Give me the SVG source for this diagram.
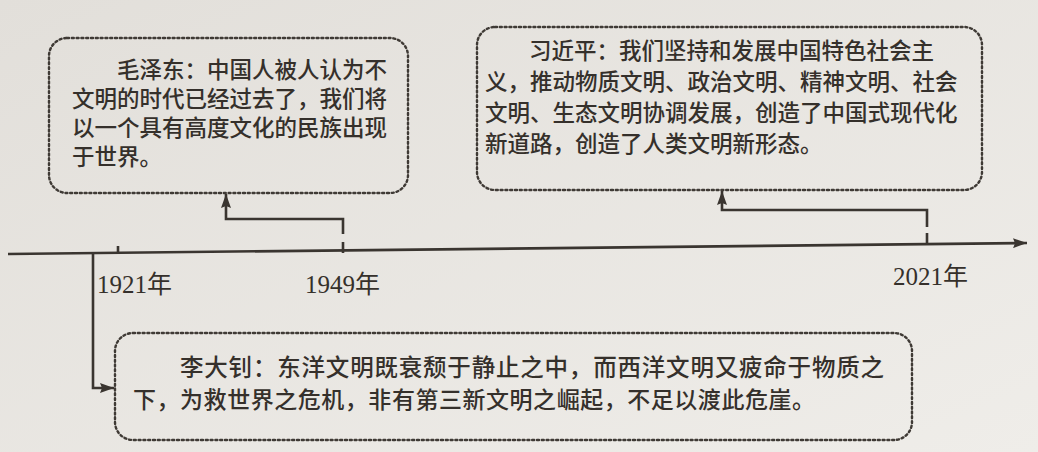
<svg xmlns="http://www.w3.org/2000/svg" width="1038" height="452" viewBox="0 0 1038 452">
<style>
.box{fill:none;stroke:#3f3a35;stroke-width:2.4;stroke-dasharray:2 2.8;stroke-linecap:round}
.t{font-family:"Noto Sans CJK SC","Noto Sans",sans-serif;fill:#35302b;font-size:22.5px;font-weight:500}
.y{font-family:"Liberation Serif","Noto Sans CJK SC",serif;fill:#35302b;font-size:25px}
.ln{fill:none;stroke:#3a3530;stroke-width:2.6}
</style>
<defs>
<marker id="ah" viewBox="0 0 14 10" refX="14" refY="5" markerWidth="14" markerHeight="10" markerUnits="userSpaceOnUse" orient="auto">
<path d="M0,0 L14,5 L0,10 L2,5 Z" fill="#3a3530"/>
</marker>
<linearGradient id="g" x1="0" y1="0" x2="1" y2="1">
<stop offset="0" stop-color="#e2dfda"/>
<stop offset="1" stop-color="#efede9"/>
</linearGradient>
</defs>
<rect width="1038" height="452" fill="url(#g)"/>

<g id="connectors">
<path class="ln" d="M8,254 L1027,243" marker-end="url(#ah)"/>
<path class="ln" d="M118,246 V253"/>
<path class="ln" d="M93,254 V388 H114" marker-end="url(#ah)"/>
<path class="ln" d="M343,253 V242 M343,234 V219 H226 V194" marker-end="url(#ah)"/>
<path class="ln" d="M927,243 V233 M927,227 V210 H722 V191" marker-end="url(#ah)"/>
</g>

<g id="year1921"><text class="y" x="97" y="293">1921年</text></g>
<g id="year1949"><text class="y" x="305" y="293">1949年</text></g>
<g id="year2021"><text class="y" x="893" y="285">2021年</text></g>

<g id="mao">
<rect class="box" x="49" y="38" width="359" height="155" rx="18"/>
<text class="t" x="117" y="78">毛泽东：中国人被人认为不</text>
<text class="t" x="72" y="107">文明的时代已经过去了，我们将</text>
<text class="t" x="72" y="136">以一个具有高度文化的民族出现</text>
<text class="t" x="72" y="165">于世界。</text>
</g>

<g id="xi">
<rect class="box" x="477" y="27" width="505" height="163" rx="18"/>
<text class="t" x="529" y="59">习近平：我们坚持和发展中国特色社会主</text>
<text class="t" x="485" y="90">义，推动物质文明、政治文明、精神文明、社会</text>
<text class="t" x="485" y="121">文明、生态文明协调发展，创造了中国式现代化</text>
<text class="t" x="485" y="152">新道路，创造了人类文明新形态。</text>
</g>

<g id="li">
<rect class="box" x="115" y="333" width="797" height="107" rx="18"/>
<text class="t" x="180" y="376" style="font-size:23.5px" textLength="704" lengthAdjust="spacing">李大钊：东洋文明既衰颓于静止之中，而西洋文明又疲命于物质之</text>
<text class="t" x="133" y="408" style="font-size:23px" textLength="682" lengthAdjust="spacing">下，为救世界之危机，非有第三新文明之崛起，不足以渡此危崖。</text>
</g>
</svg>
